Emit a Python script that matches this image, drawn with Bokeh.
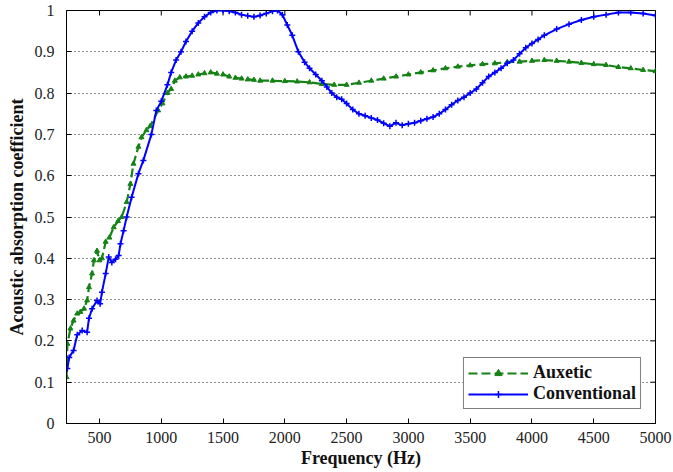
from bokeh.plotting import figure
from bokeh.models import FixedTicker, Legend, LegendItem
from bokeh.embed import file_html
from bokeh.resources import INLINE

# ---- data ----
conv_freq = [240, 255, 290, 320, 360, 400, 415, 440, 480, 505, 520, 550, 575, 600, 630, 655,
             670, 695, 720, 760, 815, 855, 920, 960, 1000, 1050, 1080, 1120, 1160, 1200, 1250,
             1300, 1350, 1400, 1450, 1500, 1550, 1600, 1650, 1700, 1750, 1800, 1850, 1900, 1940,
             1980, 2020, 2060, 2110, 2160, 2200, 2250, 2300, 2340, 2380, 2420, 2460, 2500, 2550,
             2600, 2650, 2700, 2750, 2800, 2850, 2900, 2950, 3000, 3050, 3100, 3150, 3200, 3250,
             3300, 3350, 3400, 3450, 3500, 3550, 3600, 3650, 3700, 3750, 3800, 3850, 3900, 3950,
             4000, 4050, 4100, 4200, 4300, 4400, 4500, 4600, 4700, 4800, 4900, 5000]
conv_vals = [0.133, 0.16, 0.177, 0.215, 0.225, 0.221, 0.255, 0.278, 0.298, 0.29, 0.318, 0.363,
             0.403, 0.39, 0.398, 0.407, 0.435, 0.467, 0.50, 0.548, 0.605, 0.637, 0.70, 0.758,
             0.78, 0.82, 0.85, 0.88, 0.90, 0.925, 0.95, 0.97, 0.985, 0.995, 1.0, 1.0, 0.998,
             0.995, 0.99, 0.987, 0.985, 0.988, 0.993, 0.998, 1.0, 0.99, 0.965, 0.94, 0.90,
             0.875, 0.86, 0.845, 0.83, 0.815, 0.80, 0.79, 0.785, 0.775, 0.76, 0.75, 0.745,
             0.74, 0.735, 0.727, 0.72, 0.728, 0.722, 0.726, 0.728, 0.733, 0.738, 0.742, 0.75,
             0.76, 0.772, 0.782, 0.79, 0.80, 0.81, 0.825, 0.84, 0.85, 0.86, 0.872, 0.88, 0.895,
             0.91, 0.92, 0.93, 0.94, 0.955, 0.967, 0.977, 0.985, 0.99, 0.995, 0.995, 0.993, 0.988]

aux_freq = [233, 240, 265, 290, 320, 345, 375, 400, 415, 440, 455, 480, 500, 520, 550, 580,
            615, 650, 680, 720, 750, 775, 815, 840, 880, 910, 975, 1010, 1050, 1080, 1110, 1150,
            1200, 1250, 1300, 1350, 1400, 1450, 1500, 1550, 1600, 1650, 1700, 1750, 1800, 1900,
            2000, 2100, 2200, 2300, 2400, 2500, 2600, 2700, 2800, 2900, 3000, 3100, 3200, 3300,
            3400, 3500, 3600, 3700, 3800, 3900, 4000, 4100, 4200, 4300, 4400, 4500, 4600, 4700,
            4800, 4900, 5000]
aux_vals = [0.112, 0.193, 0.23, 0.249, 0.266, 0.27, 0.278, 0.298, 0.33, 0.363, 0.395, 0.418,
            0.395, 0.40, 0.44, 0.45, 0.475, 0.49, 0.50, 0.536, 0.58, 0.629, 0.67, 0.693, 0.71,
            0.72, 0.758, 0.775, 0.80, 0.81, 0.83, 0.838, 0.84, 0.842, 0.845, 0.848, 0.85,
            0.847, 0.845, 0.84, 0.837, 0.835, 0.833, 0.832, 0.83, 0.83, 0.829, 0.828, 0.826,
            0.822, 0.82, 0.82, 0.825, 0.83, 0.835, 0.84, 0.845, 0.85, 0.855, 0.86, 0.864,
            0.867, 0.87, 0.872, 0.875, 0.876, 0.878, 0.88, 0.878, 0.876, 0.873, 0.87, 0.868,
            0.863, 0.86, 0.856, 0.853]

x_ticks = [500, 1000, 1500, 2000, 2500, 3000, 3500, 4000, 4500, 5000]
y_ticks = [0, 0.1, 0.2, 0.3, 0.4, 0.5, 0.6, 0.7, 0.8, 0.9, 1]
y_labels = ["0", "0.1", "0.2", "0.3", "0.4", "0.5", "0.6", "0.7", "0.8", "0.9", "1"]

X0, X1 = 233, 5000
FRAME_W, FRAME_H = 589, 413
TICK_LEN = 5  # px

TICK_FONT = "Liberation Sans Narrow"
TITLE_FONT = "Liberation Serif"

p = figure(frame_width=FRAME_W, frame_height=FRAME_H, x_range=(X0, X1), y_range=(0, 1),
           output_backend="svg", toolbar_location=None,
           min_border_left=66, min_border_right=18, min_border_top=10, min_border_bottom=48)

p.outline_line_color = "black"
p.outline_line_width = 1
p.xgrid.visible = False
p.ygrid.ticker = FixedTicker(ticks=y_ticks)
p.ygrid.grid_line_color = "#222222"
p.ygrid.grid_line_dash = "1 3"
p.ygrid.grid_line_width = 1

xa = p.xaxis[0]
ya = p.yaxis[0]
xa.ticker = FixedTicker(ticks=x_ticks)
ya.ticker = FixedTicker(ticks=y_ticks)
ya.major_label_overrides = {t: l for t, l in zip(y_ticks, y_labels)}
for ax in (xa, ya):
    ax.axis_line_color = "black"
    ax.major_tick_in = TICK_LEN
    ax.major_tick_out = 0
    ax.minor_tick_in = 0
    ax.minor_tick_out = 0
    ax.major_tick_line_color = "black"
    ax.major_label_text_font = TICK_FONT
    ax.major_label_text_font_size = "16px"
    ax.major_label_text_color = "#222222"
    ax.axis_label_text_font = TITLE_FONT
    ax.axis_label_text_font_style = "bold"
    ax.axis_label_text_font_size = "18px"
    ax.axis_label_text_color = "#111111"
xa.major_label_standoff = 8
ya.major_label_standoff = 12
xa.axis_label = "Frequency (Hz)"
ya.axis_label = "Acoustic absorption coefficient"
xa.axis_label_standoff = 2
ya.axis_label_standoff = 5

# inward ticks on the top and right edges of the box (MATLAB style)
dy = TICK_LEN / FRAME_H
dx = TICK_LEN / FRAME_W * (X1 - X0)
p.segment(x0=x_ticks, y0=[1] * len(x_ticks), x1=x_ticks, y1=[1 - dy] * len(x_ticks),
          line_color="black", line_width=1)
p.segment(x0=[X1] * len(y_ticks), y0=y_ticks, x1=[X1 - dx] * len(y_ticks), y1=y_ticks,
          line_color="black", line_width=1)

green = "#148214"
blue = "#0000ff"

aux_line = p.line(aux_freq, aux_vals, line_color=green, line_width=2.2, line_dash="9 4")
aux_pts = p.scatter(aux_freq, aux_vals, marker="triangle", size=5, fill_color=green,
                    line_color=green)
conv_line = p.line(conv_freq, conv_vals, line_color=blue, line_width=2)
conv_pts = p.scatter(conv_freq, conv_vals, marker="cross", size=6, line_color=blue,
                     line_width=1.5)

legend = Legend(items=[LegendItem(label="Auxetic", renderers=[aux_line, aux_pts]),
                       LegendItem(label="Conventional", renderers=[conv_line, conv_pts])],
                location="bottom_right")
legend.border_line_color = "black"
legend.border_line_width = 1
legend.background_fill_alpha = 1
legend.label_text_font = TITLE_FONT
legend.label_text_font_style = "bold"
legend.label_text_font_size = "18px"
legend.label_text_color = "#111111"
legend.glyph_width = 60
legend.glyph_height = 18
legend.label_height = 18
legend.label_standoff = 5
legend.spacing = 0
legend.padding = 4
legend.margin = 14
p.add_layout(legend, "center")

open("out.html", "w").write(file_html(p, INLINE))
